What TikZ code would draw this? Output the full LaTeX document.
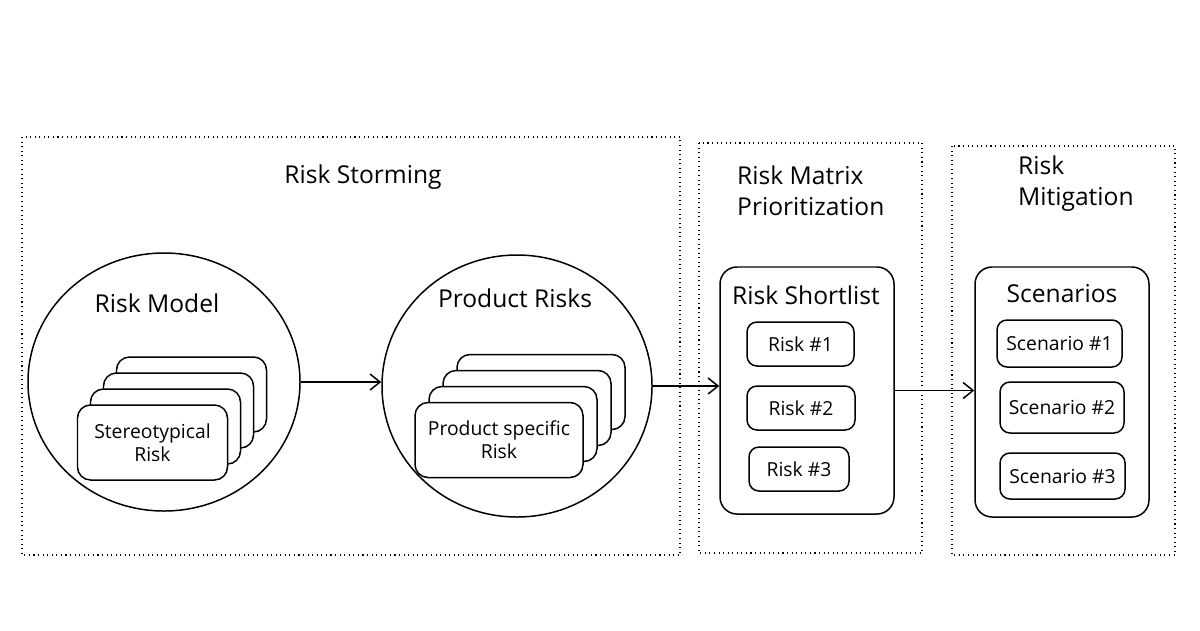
\documentclass[tikz,border=0pt]{standalone}
\usepackage{fontspec}
\setmainfont{Open Sans}
\usetikzlibrary{shapes.geometric,arrows.meta}

\tikzset{
    frame/.style={dotted, line width=0.6pt},
    stage/.style={ellipse, draw, line width=0.85pt, inner sep=0pt},
    card/.style={draw, line width=0.85pt, fill=white, rounded corners=2.6mm, align=center, font=\fontsize{11}{13}\selectfont},
    holder/.style={draw, line width=0.85pt, rounded corners=3.4mm, minimum width=34.8mm},
    item/.style={draw, line width=0.85pt, rounded corners=2mm, font=\fontsize{11}{13}\selectfont},
    heading/.style={font=\fontsize{14}{17.6}\selectfont, align=left},
    flow/.style={-{Straight Barb[length=2mm, width=3.2mm]}, line width=0.85pt}
}

\begin{document}
\begin{tikzpicture}[x=0.2mm, y=-0.2mm]
    \useasboundingbox (0,0) rectangle (1200,630);

    % Frames
    \draw[frame] (22,137) rectangle (680,555);
    \draw[frame] (699,143) rectangle (922,553);
    \draw[frame] (952,146) rectangle (1175,555);

    \node[heading] (storm) at (363,177) {Risk Storming};
    \node[heading, anchor=north west] (prio) at (731,160) {Risk Matrix\\Prioritization};
    \node[heading, anchor=north west] (miti) at (1012,150) {Risk\\Mitigation};

    % Risk Model
    \node[stage, minimum width=54.4mm, minimum height=51.6mm] (model) at (164,382) {};
    \node[heading] (modeltitle) at (157,303) {Risk Model};
    \foreach \i in {3,2,1} {
        \node[card, minimum width=30mm, minimum height=15mm] (mcard\i) at (152.5+13*\i,442.5-16*\i) {};
    }
    \node[card, minimum width=30mm, minimum height=15mm] (mcard0) at (152.5,442.5) {Stereotypical\\Risk};

    % Product Risks
    \node[stage, minimum width=54mm, minimum height=52.4mm] (product) at (517,386) {};
    \node[heading] (producttitle) at (515,298) {Product Risks};
    \foreach \i in {3,2,1} {
        \node[card, minimum width=33.6mm, minimum height=15mm] (pcard\i) at (499+14*\i,440-16*\i) {};
    }
    \node[card, minimum width=33.6mm, minimum height=15mm] (pcard0) at (499,440) {Product specific\\Risk};

    % Risk Shortlist
    \node[holder, minimum height=49.4mm] (list) at (807,390.5) {};
    \node[heading] (listtitle) at (806,295) {Risk Shortlist};
    \node[item, minimum width=21.4mm, minimum height=8.8mm] (risk1) at (800.5,344) {Risk \#1};
    \node[item, minimum width=21.6mm, minimum height=8.8mm] (risk2) at (801,408) {Risk \#2};
    \node[item, minimum width=20mm, minimum height=8.8mm] (risk3) at (799,469) {Risk \#3};

    % Scenarios
    \node[holder, minimum height=50mm] (scen) at (1062,392) {};
    \node[heading] (scentitle) at (1062,294) {Scenarios};
    \node[item, minimum width=25mm, minimum height=9.4mm] (scen1) at (1059.5,343.5) {Scenario \#1};
    \node[item, minimum width=24.8mm, minimum height=10.2mm] (scen2) at (1062,407.5) {Scenario \#2};
    \node[item, minimum width=25mm, minimum height=9.2mm] (scen3) at (1062.5,476) {Scenario \#3};

    % Arrows
    \draw[flow] (model.east) -- (model.east -| product.west);
    \draw[flow] (product.east) -- (product.east -| list.west);
    \draw[flow] (list.east) -- (list.east -| scen.west);
\end{tikzpicture}
\end{document}
